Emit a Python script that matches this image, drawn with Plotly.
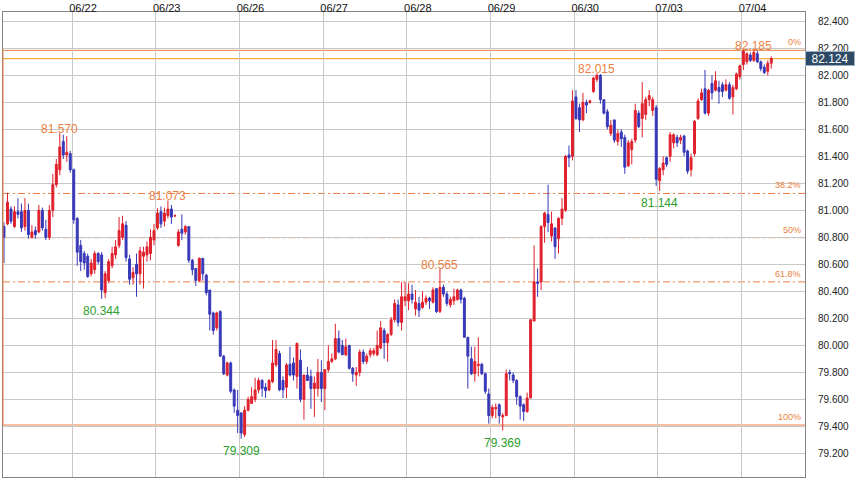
import plotly.graph_objects as go

# ---------------- data (hourly candles, 06/21 evening .. 07/04) ----------------
day_labels = ["06/22", "06/23", "06/26", "06/27", "06/28", "06/29", "06/30", "07/03", "07/04"]
day_start_idx = [20, 44, 68, 92, 116, 140, 164, 188, 212]

open_ = [
    80.88, 80.90, 81.01, 80.88, 80.99, 80.99, 80.88, 81.00, 80.80, 80.85, 80.84, 81.00, 80.86, 80.80, 81.00, 81.19, 81.30, 81.51, 81.41, 81.42,
    81.30, 80.94, 80.74, 80.68, 80.66, 80.53, 80.56, 80.68, 80.67, 80.39, 80.48, 80.59, 80.67, 80.74, 80.80, 80.89, 80.64, 80.50, 80.60, 80.53, 80.66, 80.67, 80.68, 80.78,
    80.87, 80.99, 80.92, 80.96, 81.01, 80.96, 80.74, 80.86, 80.84, 80.88, 80.63, 80.57, 80.48, 80.645, 80.52, 80.41, 80.24, 80.13, 80.25, 79.92, 79.78, 79.87, 79.67, 79.52,
    79.50, 79.34, 79.52, 79.57, 79.60, 79.67, 79.74, 79.69, 79.67, 79.73, 79.855, 79.94, 79.74, 79.69, 79.86, 79.87, 79.77, 79.89, 79.60, 79.78, 79.77, 79.68, 79.68, 79.80,
    79.68, 79.82, 79.88, 79.90, 80.05, 80.00, 79.93, 80.00, 79.83, 79.78, 79.80, 79.95, 79.88, 79.93, 79.94, 79.93, 79.98, 80.11, 80.02, 80.08, 80.19, 80.30, 80.17, 80.33,
    80.33, 80.38, 80.27, 80.31, 80.28, 80.32, 80.35, 80.32, 80.42, 80.25, 80.43, 80.38, 80.30, 80.33, 80.34, 80.41, 80.35, 80.06, 79.90, 79.79, 79.85, 79.86, 79.79, 79.64,
    79.48, 79.53, 79.56, 79.47, 79.48, 79.80, 79.78, 79.74, 79.62, 79.56, 79.51, 79.61, 80.18, 80.47, 80.47, 80.88, 80.97, 80.81, 80.87, 80.79, 80.94, 81.00, 81.41, 81.40,
    81.84, 81.76, 81.67, 81.80, 81.80, 81.88, 81.97, 82.00, 81.82, 81.73, 81.57, 81.67, 81.51, 81.58, 81.54, 81.33, 81.45, 81.52, 81.72, 81.68, 81.71, 81.82, 81.74, 81.76,
    81.22, 81.30, 81.39, 81.40, 81.50, 81.54, 81.52, 81.55, 81.44, 81.30, 81.42, 81.68, 81.82, 81.90, 81.72, 81.94, 81.89, 81.91, 81.93, 81.89, 81.93, 81.84, 81.90, 81.99,
    82.08, 82.10, 82.15, 82.11, 82.16, 82.10, 82.06, 82.03, 82.09,
]
high = [
    80.91, 81.13, 81.03, 81.03, 81.09, 81.05, 81.09, 81.05, 80.89, 80.88, 81.04, 81.02, 80.93, 81.04, 81.27, 81.38, 81.57, 81.56, 81.55, 81.44,
    81.31, 80.95, 80.78, 80.70, 80.68, 80.64, 80.70, 80.69, 80.69, 80.55, 80.64, 80.73, 80.78, 80.95, 80.96, 80.92, 80.67, 80.58, 80.68, 80.73, 80.73, 80.77, 80.86, 80.90,
    81.015, 81.03, 81.02, 81.073, 81.04, 80.97, 80.86, 80.97, 80.89, 80.88, 80.64, 80.57, 80.65, 80.645, 80.53, 80.41, 80.25, 80.25, 80.26, 79.93, 79.88, 79.88, 79.68, 79.67,
    79.50, 79.55, 79.62, 79.69, 79.76, 79.76, 79.75, 79.72, 79.75, 80.04, 80.04, 79.96, 79.77, 79.87, 79.99, 79.91, 80.02, 79.97, 79.78, 79.84, 79.82, 79.77, 79.90, 79.89,
    79.82, 80.00, 79.94, 80.16, 80.11, 80.04, 80.05, 80.00, 79.84, 79.84, 79.97, 79.97, 79.94, 79.98, 79.98, 80.11, 80.18, 80.13, 80.09, 80.21, 80.34, 80.34, 80.47, 80.47,
    80.46, 80.45, 80.41, 80.36, 80.40, 80.37, 80.36, 80.43, 80.42, 80.565, 80.45, 80.40, 80.36, 80.42, 80.42, 80.42, 80.36, 80.06, 79.99, 79.99, 80.06, 79.87, 79.80, 79.68,
    79.56, 79.57, 79.57, 79.50, 79.82, 79.82, 79.80, 79.75, 79.63, 79.57, 79.65, 80.19, 80.74, 80.57, 80.89, 80.99, 81.19, 80.99, 80.87, 80.95, 81.09, 81.41, 81.48, 81.89,
    81.89, 81.79, 81.87, 81.82, 81.82, 81.99, 82.015, 82.01, 81.82, 81.75, 81.67, 81.67, 81.60, 81.60, 81.56, 81.52, 81.53, 81.79, 81.74, 81.95, 81.84, 81.89, 81.84, 81.78,
    81.32, 81.40, 81.40, 81.58, 81.57, 81.56, 81.56, 81.56, 81.45, 81.42, 81.67, 81.83, 81.90, 82.04, 81.90, 82.00, 82.03, 81.96, 81.95, 81.97, 81.95, 81.93, 82.02, 82.08,
    82.185, 82.17, 82.17, 82.185, 82.18, 82.11, 82.08, 82.11, 82.14,
]
low = [
    80.61, 80.89, 80.90, 80.87, 80.94, 80.84, 80.85, 80.79, 80.79, 80.79, 80.83, 80.85, 80.78, 80.78, 80.95, 81.17, 81.26, 81.38, 81.36, 81.28,
    80.90, 80.59, 80.55, 80.56, 80.50, 80.51, 80.53, 80.60, 80.344, 80.35, 80.46, 80.57, 80.64, 80.72, 80.78, 80.62, 80.45, 80.45, 80.36, 80.45, 80.42, 80.62, 80.63, 80.74,
    80.855, 80.87, 80.88, 80.94, 80.90, 80.95, 80.73, 80.78, 80.82, 80.61, 80.52, 80.44, 80.47, 80.48, 80.37, 80.11, 80.08, 80.11, 79.92, 79.78, 79.77, 79.645, 79.50, 79.35,
    79.309, 79.32, 79.51, 79.57, 79.58, 79.645, 79.62, 79.61, 79.66, 79.72, 79.84, 79.66, 79.61, 79.61, 79.77, 79.74, 79.68, 79.58, 79.45, 79.74, 79.53, 79.47, 79.62, 79.58,
    79.52, 79.80, 79.87, 79.89, 79.94, 79.93, 79.92, 79.82, 79.73, 79.70, 79.77, 79.86, 79.86, 79.91, 79.92, 79.92, 79.97, 79.90, 79.88, 80.07, 80.17, 80.14, 80.11, 80.29,
    80.26, 80.31, 80.22, 80.21, 80.27, 80.30, 80.27, 80.31, 80.24, 80.24, 80.36, 80.29, 80.28, 80.30, 80.33, 80.31, 80.06, 79.68, 79.78, 79.73, 79.77, 79.78, 79.64, 79.42,
    79.46, 79.46, 79.42, 79.369, 79.48, 79.74, 79.72, 79.56, 79.45, 79.44, 79.50, 79.61, 80.18, 80.36, 80.41, 80.76, 80.84, 80.77, 80.64, 80.68, 80.89, 80.99, 81.32, 81.37,
    81.67, 81.58, 81.66, 81.72, 81.79, 81.87, 81.95, 81.79, 81.71, 81.60, 81.55, 81.50, 81.48, 81.47, 81.27, 81.32, 81.34, 81.50, 81.61, 81.54, 81.67, 81.77, 81.70, 81.18,
    81.144, 81.26, 81.32, 81.36, 81.46, 81.47, 81.49, 81.40, 81.27, 81.25, 81.40, 81.67, 81.81, 81.71, 81.70, 81.82, 81.88, 81.79, 81.84, 81.88, 81.82, 81.71, 81.89, 81.97,
    82.04, 82.08, 82.10, 82.10, 82.09, 82.03, 82.01, 82.00, 82.05,
]
close = [
    80.80, 81.06, 80.92, 80.99, 80.97, 80.87, 81.00, 80.82, 80.84, 80.82, 81.00, 80.87, 80.80, 81.00, 81.19, 81.34, 81.47, 81.41, 81.43, 81.30,
    80.93, 80.69, 80.62, 80.61, 80.51, 80.61, 80.68, 80.62, 80.41, 80.53, 80.62, 80.68, 80.73, 80.85, 80.90, 80.65, 80.49, 80.54, 80.53, 80.70, 80.69, 80.73, 80.80, 80.85,
    80.98, 80.90, 80.98, 81.01, 80.95, 80.96, 80.84, 80.83, 80.88, 80.63, 80.56, 80.48, 80.645, 80.53, 80.39, 80.23, 80.11, 80.24, 79.92, 79.79, 79.87, 79.66, 79.55, 79.48,
    79.35, 79.52, 79.60, 79.62, 79.67, 79.74, 79.68, 79.665, 79.74, 79.87, 79.97, 79.67, 79.67, 79.855, 79.78, 79.78, 80.015, 79.60, 79.78, 79.74, 79.68, 79.72, 79.80, 79.68,
    79.82, 79.88, 79.90, 80.05, 79.95, 79.93, 79.99, 79.83, 79.79, 79.80, 79.95, 79.88, 79.92, 79.96, 79.96, 80.00, 80.13, 80.02, 80.08, 80.19, 80.31, 80.17, 80.36, 80.36,
    80.38, 80.34, 80.32, 80.26, 80.32, 80.35, 80.33, 80.41, 80.25, 80.43, 80.38, 80.31, 80.34, 80.36, 80.41, 80.34, 80.06, 79.92, 79.79, 79.88, 79.86, 79.79, 79.66, 79.48,
    79.54, 79.54, 79.48, 79.48, 79.79, 79.79, 79.74, 79.62, 79.55, 79.51, 79.61, 80.19, 80.47, 80.46, 80.88, 80.98, 80.91, 80.90, 80.73, 80.94, 81.01, 81.40, 81.39, 81.81,
    81.68, 81.67, 81.80, 81.78, 81.81, 81.98, 82.00, 81.82, 81.72, 81.62, 81.63, 81.52, 81.57, 81.53, 81.32, 81.50, 81.51, 81.74, 81.62, 81.79, 81.82, 81.85, 81.82, 81.23,
    81.31, 81.35, 81.34, 81.56, 81.56, 81.50, 81.54, 81.43, 81.29, 81.39, 81.66, 81.81, 81.87, 81.72, 81.89, 81.87, 81.96, 81.88, 81.88, 81.93, 81.83, 81.91, 82.01, 82.07,
    82.18, 82.16, 82.11, 82.17, 82.10, 82.05, 82.02, 82.09, 82.124,
]

peak_idx = [16, 47, 125, 170, 215]
peak_val = [81.570, 81.073, 80.565, 82.015, 82.185]
trough_idx = [28, 68, 143, 188]
trough_val = [80.344, 79.309, 79.369, 81.144]

last_price = 82.124
fib_high = 82.185
fib_low = 79.41
fib_levels = [0.0, 0.382, 0.5, 0.618, 1.0]
fib_texts = ["0%", "38.2%", "50%", "61.8%", "100%"]

y_ticks = [79.2, 79.4, 79.6, 79.8, 80.0, 80.2, 80.4, 80.6, 80.8, 81.0, 81.2, 81.4, 81.6, 81.8, 82.0, 82.2, 82.4]

n = len(close)
assert len(open_) == n and len(high) == n and len(low) == n, (len(open_), len(high), len(low), n)
xs = list(range(n))

# ---------------- styles ----------------
RED = "#e0202c"
BLUE = "#3737b8"
ORANGE = "#ec7f42"
GOLD = "#f2ad3a"
GREEN = "#2ca02c"
GRID = "#c8c8c8"
FRAME = "#858585"
FONT = "Liberation Sans, Arial, sans-serif"

fig = go.Figure()
fig.add_trace(go.Candlestick(
    x=xs, open=open_, high=high, low=low, close=close,
    increasing=dict(line=dict(color=RED, width=1), fillcolor=RED),
    decreasing=dict(line=dict(color=BLUE, width=1), fillcolor=BLUE),
    whiskerwidth=0, hoverinfo="skip", showlegend=False,
))

shapes = []
annotations = []

# fibonacci retracement lines
for lvl, txt in zip(fib_levels, fib_texts):
    price = fib_high - (fib_high - fib_low) * lvl
    solid = lvl in (0.0, 1.0)
    shapes.append(dict(type="line", xref="paper", yref="y", x0=0, x1=1, y0=price, y1=price,
                       line=dict(color=ORANGE, width=1, dash="solid" if solid else "7px,3px,2px,3px"),
                       layer="below"))
    annotations.append(dict(xref="paper", yref="y", x=0.997, y=price, text=txt, showarrow=False,
                            xanchor="right", yanchor="bottom", yshift=1,
                            font=dict(family=FONT, size=9, color=ORANGE)))
shapes.append(dict(type="line", xref="paper", yref="y", x0=0, x1=0, y0=fib_low, y1=fib_high,
                   line=dict(color=ORANGE, width=1)))

# last price line + badge
shapes.append(dict(type="line", xref="paper", yref="y", x0=0, x1=1, y0=last_price, y1=last_price,
                   line=dict(color=GOLD, width=1.2), layer="below"))
annotations.append(dict(xref="paper", yref="y", x=1, y=last_price, text=f"{last_price:.3f}",
                        showarrow=False, xanchor="left", yanchor="middle",
                        bgcolor="#2d4b66", bordercolor="#9db0c2", borderwidth=1, borderpad=0,
                        width=48, height=13,
                        font=dict(family=FONT, size=12, color="white")))

# high / low labels
for i, v in zip(peak_idx, peak_val):
    annotations.append(dict(x=i, y=v, xref="x", yref="y", text=f"{v:.3f}", showarrow=False,
                            yanchor="middle", yshift=4,
                            font=dict(family=FONT, size=12, color=ORANGE)))
for i, v in zip(trough_idx, trough_val):
    annotations.append(dict(x=i, y=v, xref="x", yref="y", text=f"{v:.3f}", showarrow=False,
                            yanchor="middle", yshift=-12,
                            font=dict(family=FONT, size=12, color=GREEN)))

fig.update_layout(
    width=855, height=481,
    margin=dict(l=3, r=50, t=12, b=4, autoexpand=False),
    paper_bgcolor="white", plot_bgcolor="white",
    showlegend=False, hovermode=False,
    boxgap=0.35, boxgroupgap=0.15,
    shapes=shapes, annotations=annotations,
    xaxis=dict(
        type="linear", range=[-0.287, 229.67], rangeslider=dict(visible=False),
        side="top", tickmode="array", automargin=False,
        tickvals=[d - 0.5 for d in day_start_idx], ticktext=day_labels,
        ticks="", ticklabelshift=11, ticklabelstandoff=-5,
        tickfont=dict(family=FONT, size=11, color="#111111"),
        showgrid=True, gridcolor=GRID, gridwidth=1, zeroline=False,
        showline=True, linecolor=FRAME, linewidth=1, mirror=True,
    ),
    yaxis=dict(
        side="right", range=[79.025, 82.469], tickmode="array", automargin=False,
        tickvals=y_ticks, ticktext=[f"{v:.3f}" for v in y_ticks],
        ticks="", ticklabelstandoff=10,
        tickfont=dict(family=FONT, size=10, color="#222222"),
        showgrid=True, gridcolor=GRID, gridwidth=1, zeroline=False,
        showline=True, linecolor=FRAME, linewidth=1, mirror=True,
    ),
)

fig.write_html(
    "out.html",
    config={"displayModeBar": False, "staticPlot": True},
    post_script="document.body.style.margin='0';document.body.style.padding='0';document.body.style.overflow='hidden';",
)
